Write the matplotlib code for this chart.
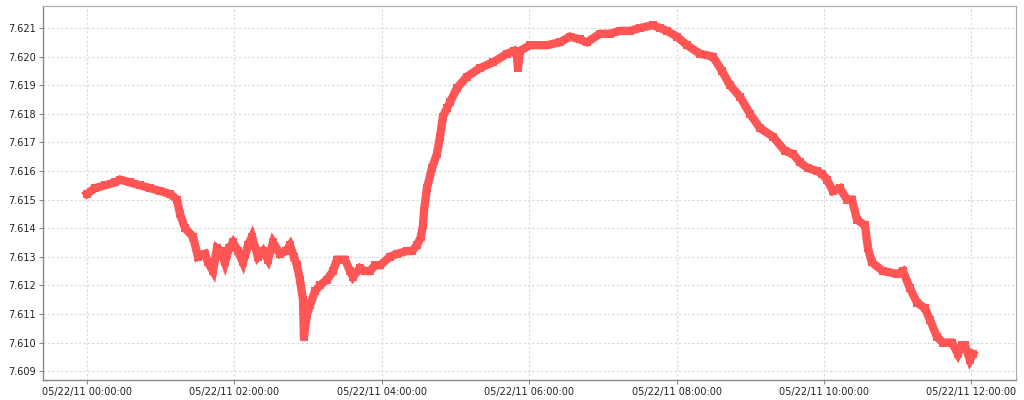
import matplotlib
matplotlib.use("Agg")
import matplotlib.pyplot as plt

# time in hours since 05/22/11 00:00:00
hours = [0.000, 0.109, 0.244, 0.380, 0.448, 0.583, 0.719, 0.855, 0.990, 1.126,
         1.221, 1.262, 1.330, 1.438, 1.506, 1.601, 1.642, 1.710, 1.764, 1.818,
         1.872, 1.927, 1.981, 2.049, 2.117, 2.185, 2.239, 2.320, 2.388, 2.456,
         2.524, 2.619, 2.700, 2.754, 2.809, 2.849, 2.890, 2.931, 2.944, 2.985,
         3.026, 3.094, 3.161, 3.256, 3.338, 3.392, 3.501, 3.569, 3.609, 3.704,
         3.772, 3.840, 3.908, 3.976, 4.111, 4.206, 4.342, 4.410, 4.478, 4.532,
         4.559, 4.573, 4.613, 4.681, 4.749, 4.790, 4.830, 4.885, 4.925, 5.020,
         5.156, 5.332, 5.509, 5.699, 5.794, 5.834, 5.848, 5.875, 6.011, 6.242,
         6.418, 6.554, 6.689, 6.784, 6.961, 7.096, 7.232, 7.368, 7.503, 7.680,
         7.775, 7.870, 8.005, 8.141, 8.318, 8.494, 8.616, 8.725, 8.860, 8.996,
         9.132, 9.308, 9.471, 9.580, 9.674, 9.783, 9.905, 9.973, 10.041, 10.122,
         10.217, 10.312, 10.380, 10.448, 10.556, 10.597, 10.651, 10.801, 10.991, 11.072,
         11.167, 11.262, 11.370, 11.438, 11.533, 11.615, 11.737, 11.818, 11.872, 11.913,
         11.981, 12.022]

values = [7.6152, 7.6154, 7.6155, 7.6156, 7.6157, 7.6156, 7.6155, 7.6154, 7.6153, 7.6152,
          7.6150, 7.6145, 7.6140, 7.6137, 7.6130, 7.6131, 7.6128, 7.6125, 7.6133, 7.6132,
          7.6128, 7.6133, 7.6135, 7.6132, 7.6128, 7.6134, 7.6137, 7.6130, 7.6132, 7.6129,
          7.6135, 7.6131, 7.6132, 7.6134, 7.6130, 7.6127, 7.6122, 7.6115, 7.6102, 7.6110,
          7.6113, 7.6118, 7.6120, 7.6122, 7.6125, 7.6129, 7.6129, 7.6125, 7.6123, 7.6126,
          7.6125, 7.6125, 7.6127, 7.6127, 7.6130, 7.6131, 7.6132, 7.6132, 7.6134, 7.6137,
          7.6141, 7.6146, 7.6154, 7.6161, 7.6166, 7.6172, 7.6179, 7.6182, 7.6184, 7.6189,
          7.6193, 7.6196, 7.6198, 7.6201, 7.6202, 7.6200, 7.6196, 7.6202, 7.6204, 7.6204,
          7.6205, 7.6207, 7.6206, 7.6205, 7.6208, 7.6208, 7.6209, 7.6209, 7.6210, 7.6211,
          7.6210, 7.6209, 7.6207, 7.6204, 7.6201, 7.6200, 7.6195, 7.6190, 7.6186, 7.6180,
          7.6175, 7.6172, 7.6167, 7.6166, 7.6163, 7.6161, 7.6160, 7.6159, 7.6157, 7.6153,
          7.6154, 7.6150, 7.6150, 7.6143, 7.6141, 7.6133, 7.6128, 7.6125, 7.6124, 7.6125,
          7.6119, 7.6114, 7.6112, 7.6108, 7.6102, 7.6100, 7.6100, 7.6096, 7.6099, 7.6099,
          7.6094, 7.6096]

x_ticks = [0, 2, 4, 6, 8, 10, 12]
x_tick_labels = ["05/22/11 00:00:00", "05/22/11 02:00:00", "05/22/11 04:00:00",
                 "05/22/11 06:00:00", "05/22/11 08:00:00", "05/22/11 10:00:00",
                 "05/22/11 12:00:00"]
y_ticks = [7.609, 7.610, 7.611, 7.612, 7.613, 7.614, 7.615, 7.616, 7.617,
           7.618, 7.619, 7.620, 7.621]
y_tick_labels = ["%.3f" % v for v in y_ticks]

fig = plt.figure(figsize=(10.24, 4.0), dpi=100)
ax = fig.add_axes([43 / 1024, 1 - 380 / 400, (1016 - 43) / 1024, (380 - 6) / 400])

ax.plot(hours, values, color="#FF5555", lw=6.0, solid_joinstyle="miter",
        solid_capstyle="projecting", marker="s", markersize=6,
        markerfacecolor="#FF5555", markeredgewidth=0, zorder=3)

ax.set_xlim(-0.597, 12.606)
ax.set_ylim(7.60869, 7.62177)
ax.set_xticks(x_ticks)
ax.set_xticklabels(x_tick_labels)
ax.set_yticks(y_ticks)
ax.set_yticklabels(y_tick_labels)

ax.grid(True, color="#D8D8D8", linestyle=(0, (2, 2)), linewidth=0.8, zorder=0)
ax.set_axisbelow(True)

for side in ["left", "bottom"]:
    ax.spines[side].set_color("#888888")
    ax.spines[side].set_linewidth(1.0)
for side in ["top", "right"]:
    ax.spines[side].set_color("#AAAAAA")
    ax.spines[side].set_linewidth(0.8)

ax.tick_params(axis="both", direction="out", length=3, width=0.8, color="#888888",
               labelsize=7, labelcolor="#222222", pad=2)

fig.savefig("out.png", dpi=100, facecolor="white")
